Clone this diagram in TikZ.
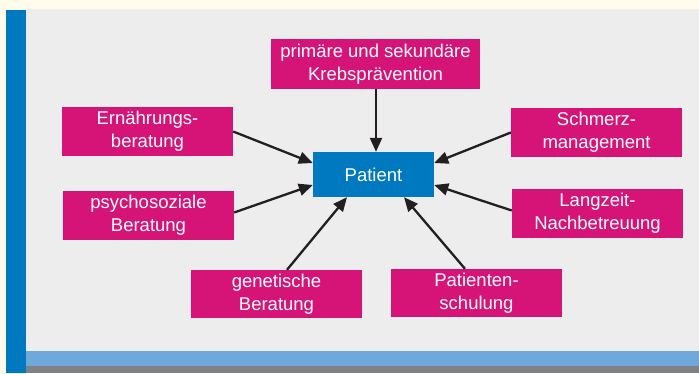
\documentclass[tikz,border=0pt]{standalone}
\usepackage{fontspec}
\setmainfont{Liberation Sans}
\usetikzlibrary{arrows.meta}
\definecolor{cream}{RGB}{255,252,235}
\definecolor{panel}{RGB}{237,237,237}
\definecolor{barblue}{RGB}{0,121,193}
\definecolor{lightblue}{RGB}{111,168,218}
\definecolor{darkgray}{RGB}{128,129,133}
\definecolor{mag}{RGB}{214,19,118}
\definecolor{arrowc}{RGB}{35,31,32}
\begin{document}
\begin{tikzpicture}[x=1pt,y=-1pt,
  box/.style={fill=mag, text=white, inner sep=0pt, align=center,
    minimum width=171pt, minimum height=49pt,
    font=\fontsize{18.5}{23}\selectfont},
  pat/.style={fill=barblue, text=white, inner sep=0pt, align=center,
    minimum width=121pt, minimum height=45pt,
    font=\fontsize{18.5}{23}\selectfont},
  conn/.style={draw=arrowc, line width=2.3pt,
    -{Triangle[length=14pt,width=12pt]}}]
\useasboundingbox (0,0) rectangle (699,373);
\fill[cream] (0,0) rectangle (699,373);
\fill[panel] (26,9) rectangle (699,351);
\fill[lightblue] (26,351) rectangle (699,366);
\fill[darkgray] (26,366) rectangle (699,373);
\fill[barblue] (6,10) rectangle (26,373);

\node[pat] (p) at (373.5,174.5) {Patient};
\node[box, minimum width=209pt, minimum height=50pt] (t) at (375.5,64) {primäre und sekundäre\\Krebsprävention};
\node[box] (e) at (147.5,131.5) {Ernährungs-\\beratung};
\node[box] (ps) at (148.5,215.5) {psychosoziale\\Beratung};
\node[box] (s) at (596.5,132.5) {Schmerz-\\management};
\node[box] (l) at (597.5,213.5) {Langzeit-\\Nachbetreuung};
\node[box, minimum height=48pt] (g) at (276.5,294) {genetische\\Beratung};
\node[box, minimum height=48pt] (sc) at (476.5,293) {Patienten-\\schulung};

\draw[conn] ([xshift=0.5pt]t.south) -- ([xshift=0.5pt]t.south |- p.north);
\draw[conn] (e.east) -- ([yshift=11.5pt]p.west);
\draw[conn] ([yshift=3pt]ps.east) -- ([yshift=-10.5pt]p.west);
\draw[conn] (s.west) -- ([yshift=11.5pt]p.east);
\draw[conn] ([yshift=3pt]l.west) -- ([yshift=-10.5pt]p.east);
\draw[conn] ([xshift=10.5pt]g.north) -- ([xshift=-26.5pt]p.south);
\draw[conn] ([xshift=-11.5pt]sc.north) -- ([xshift=30.5pt]p.south);
\end{tikzpicture}
\end{document}
